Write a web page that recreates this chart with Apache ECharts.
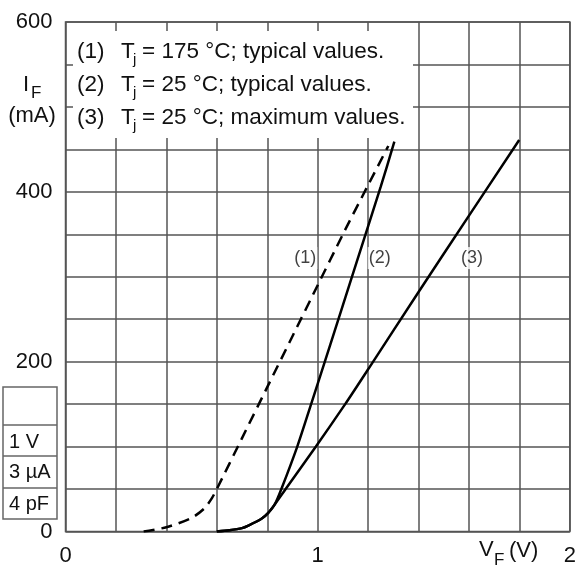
<!DOCTYPE html>
<html>
<head>
<meta charset="utf-8">
<script src="https://cdn.jsdelivr.net/npm/echarts@6/dist/echarts.min.js"></script>
<style>
  html, body { margin: 0; padding: 0; background: #fff; }
  #main { width: 579px; height: 570px; }
</style>
</head>
<body>
<div id="main"></div>
<script>
// 曲线数据 (VF in V, IF in mA)
var vf1 = [0.31, 0.40, 0.50, 0.55, 0.58, 0.60, 0.70, 0.80, 0.90, 1.0, 1.1, 1.2, 1.28];
var if1 = [0, 5, 16, 27, 39, 50, 110, 170, 230, 290, 350, 408, 454];

var vf2 = [0.60, 0.65, 0.70, 0.725, 0.777, 0.804, 0.83, 0.856, 0.919, 0.974, 1.05, 1.15, 1.25, 1.304];
var if2 = [0, 1.5, 4, 7, 15, 22, 32, 50, 100, 150, 220, 313, 406, 459];

var vf3 = [0.60, 0.65, 0.70, 0.725, 0.777, 0.804, 0.83, 0.873, 0.993, 1.109, 1.2, 1.4, 1.6, 1.799];
var if3 = [0, 1.5, 4, 7, 15, 22, 32, 50, 100, 150, 191, 282, 372, 461];

// 曲线标注 (1)(2)(3)
var tagNames = ['(1)', '(2)', '(3)'];
var tagVf = [0.951, 1.246, 1.612];
var tagIf = [322, 322, 322];

var legendLines = ['= 175 \u00B0C; typical values.', '= 25 \u00B0C; typical values.', '= 25 \u00B0C; maximum values.'];
var tableRows = ['1 V', '3 \u00B5A', '4 pF'];

function pairs(xs, ys) {
    return xs.map(function (x, i) { return [x, ys[i]]; });
}

var FONT = 'Liberation Sans, Arial, sans-serif';
var INK = '#111';
var GRIDC = '#555';

var myChart = echarts.init(document.getElementById('main'));

// 图例框 + 左侧文字
var graphics = [
    { type: 'rect', z: 100, shape: { x: 73, y: 31, width: 340, height: 107 }, style: { fill: '#fff' } }
];
var legendY = [52, 85, 118];
legendLines.forEach(function (t, i) {
    var y = legendY[i];
    graphics.push({ type: 'text', z: 101, x: 77, y: y, style: { text: '(' + (i + 1) + ')', font: '22.5px ' + FONT, fill: INK, verticalAlign: 'middle' } });
    graphics.push({ type: 'text', z: 101, x: 121, y: y, style: { text: 'T', font: '22.5px ' + FONT, fill: INK, verticalAlign: 'middle' } });
    graphics.push({ type: 'text', z: 101, x: 133, y: y + 8, style: { text: 'j', font: '15px ' + FONT, fill: INK, verticalAlign: 'middle' } });
    graphics.push({ type: 'text', z: 101, x: 142, y: y, style: { text: t, font: '22.5px ' + FONT, fill: INK, verticalAlign: 'middle' } });
});

// I_F (mA)
graphics.push({ type: 'text', x: 23, y: 85, style: { text: 'I', font: '22px ' + FONT, fill: INK, verticalAlign: 'middle' } });
graphics.push({ type: 'text', x: 31, y: 93, style: { text: 'F', font: '17px ' + FONT, fill: INK, verticalAlign: 'middle' } });
graphics.push({ type: 'text', x: 32, y: 116, style: { text: '(mA)', font: '22px ' + FONT, fill: INK, align: 'center', verticalAlign: 'middle' } });
// V_F (V)
graphics.push({ type: 'text', x: 479, y: 550, style: { text: 'V', font: '22px ' + FONT, fill: INK, verticalAlign: 'middle' } });
graphics.push({ type: 'text', x: 494, y: 560, style: { text: 'F', font: '17px ' + FONT, fill: INK, verticalAlign: 'middle' } });
graphics.push({ type: 'text', x: 509, y: 551, style: { text: '(V)', font: '22px ' + FONT, fill: INK, verticalAlign: 'middle' } });

// 左侧小表格
graphics.push({ type: 'rect', shape: { x: 3, y: 387, width: 54, height: 132 }, style: { fill: '#fff', stroke: '#666', lineWidth: 1.5 } });
[425, 456, 488].forEach(function (y) {
    graphics.push({ type: 'line', shape: { x1: 3, y1: y, x2: 57, y2: y }, style: { stroke: '#666', lineWidth: 1.5 } });
});
var rowY = [442, 472, 504];
tableRows.forEach(function (t, i) {
    graphics.push({ type: 'text', x: 9, y: rowY[i], style: { text: t, font: '20px ' + FONT, fill: INK, verticalAlign: 'middle' } });
});

var option = {
    animation: false,
    grid: {
        left: 65.5, right: 4.5, top: 22, bottom: 38.5,
        show: true, borderColor: GRIDC, borderWidth: 1.5, backgroundColor: '#fff'
    },
    xAxis: {
        type: 'value', min: 0, max: 2, interval: 0.2,
        axisLine: { show: false }, axisTick: { show: false },
        splitLine: { show: true, lineStyle: { color: GRIDC, width: 1.5 } },
        axisLabel: {
            margin: 13, fontSize: 22, color: INK, fontFamily: FONT,
            formatter: function (v) { return Math.abs(v - Math.round(v)) < 1e-6 ? String(Math.round(v)) : ''; }
        }
    },
    yAxis: {
        type: 'value', min: 0, max: 600, interval: 50,
        axisLine: { show: false }, axisTick: { show: false },
        splitLine: { show: true, lineStyle: { color: GRIDC, width: 1.5 } },
        axisLabel: {
            margin: 13, fontSize: 22, color: INK, fontFamily: FONT,
            formatter: function (v) { return v % 200 === 0 ? String(v) : ''; }
        }
    },
    series: [
        {
            type: 'line', data: pairs(vf1, if1), smooth: 0.25, showSymbol: false,
            lineStyle: { color: '#000', width: 2.5, type: [11, 7] }, z: 3
        },
        {
            type: 'line', data: pairs(vf2, if2), smooth: 0.25, showSymbol: false,
            lineStyle: { color: '#000', width: 2.5 }, z: 3
        },
        {
            type: 'line', data: pairs(vf3, if3), smooth: 0.25, showSymbol: false,
            lineStyle: { color: '#000', width: 2.5 }, z: 3
        },
        {
            type: 'scatter', symbolSize: 0, z: 4,
            data: tagNames.map(function (n, i) { return { name: n, value: [tagVf[i], tagIf[i]] }; }),
            label: {
                show: true, position: 'inside', formatter: '{b}',
                fontSize: 18, color: INK, fontFamily: FONT,
                backgroundColor: '#fff', padding: [2, 1]
            }
        }
    ],
    graphic: graphics
};

myChart.setOption(option);
</script>
</body>
</html>
